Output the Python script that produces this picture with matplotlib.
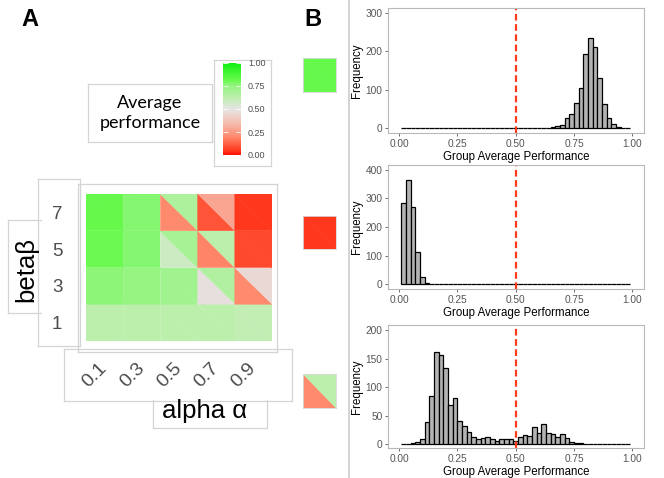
import numpy as np
import matplotlib.pyplot as plt
from matplotlib.colors import LinearSegmentedColormap, Normalize
from matplotlib.patches import Polygon, Rectangle
from matplotlib.cm import ScalarMappable

plt.rcParams['font.family'] = ['Liberation Sans', 'DejaVu Sans']

# ---------------- data ----------------
alphas = ['0.1', '0.3', '0.5', '0.7', '0.9']
betas = ['1', '3', '5', '7']

# average performance per cell (rows: beta 1,3,5,7 ; cols: alpha 0.1..0.9)
# each cell is split along its diagonal: lower-left / upper-right triangle
perf_lower = [
    [0.63, 0.63, 0.63, 0.63, 0.61],
    [0.76, 0.745, 0.71, 0.48, 0.20],
    [0.81, 0.77, 0.58, 0.19, 0.08],
    [0.82, 0.77, 0.20, 0.10, 0.05],
]
perf_upper = [
    [0.63, 0.63, 0.63, 0.63, 0.61],
    [0.76, 0.745, 0.71, 0.66, 0.45],
    [0.81, 0.77, 0.69, 0.63, 0.08],
    [0.82, 0.77, 0.67, 0.28, 0.05],
]

# the three example squares next to the histograms
example_lower = [0.82, 0.05, 0.20]
example_upper = [0.82, 0.05, 0.63]

# histogram bins 0.01 .. 0.99, width 0.02
bin_width = 0.02
bin_left = np.round(np.arange(0.01, 0.98, bin_width), 2)

counts_high = [
    0, 0, 0, 0, 0, 0, 0, 0, 0, 0,
    0, 0, 0, 0, 0, 0, 0, 0, 0, 0,
    0, 0, 0, 0, 0, 0, 0, 0, 0, 0,
    0, 1, 3, 5, 8, 25, 36, 64, 104, 192,
    234, 210, 130, 62, 27, 10, 2, 0, 0,
]
counts_low = [
    283, 364, 269, 114, 26, 2, 0, 0, 0, 0,
    0, 0, 0, 0, 0, 0, 0, 0, 0, 0,
    0, 0, 0, 0, 0, 0, 0, 0, 0, 0,
    0, 0, 0, 0, 0, 0, 0, 0, 0, 0,
    0, 0, 0, 0, 0, 0, 0, 0, 0,
]
counts_mixed = [
    0, 0, 1, 3, 8, 38, 85, 161, 156, 134,
    68, 80, 40, 31, 21, 13, 9, 11, 12, 8,
    6, 8, 8, 9, 6, 12, 15, 14, 30, 20,
    35, 20, 17, 12, 18, 10, 4, 2, 1, 0,
    0, 0, 0, 0, 0, 0, 0, 0, 0,
]
hist_counts = [counts_high, counts_low, counts_mixed]
hist_yticks = [[0, 100, 200, 300], [0, 100, 200, 300, 400], [0, 50, 100, 150, 200]]
hist_ylims = [(-13, 313), (-17.5, 417.5), (-7, 209)]

perf_ticks = [0, 0.25, 0.5, 0.75, 1.0]
perf_ticklabels = ['0.00', '0.25', '0.50', '0.75', '1.00']

# ---------------- style ----------------
cmap = LinearSegmentedColormap.from_list('perf', [
    (0.00, '#ff1000'), (0.05, '#ff3a1f'), (0.20, '#ff8a6e'),
    (0.35, '#f5beb0'), (0.50, '#e5e5e5'), (0.63, '#bcefac'),
    (0.75, '#94f580'), (0.82, '#66f94c'), (1.00, '#10f010'),
])
norm = Normalize(0, 1)

W, H = 664, 478
fig = plt.figure(figsize=(W / 100, H / 100), dpi=100)
BOX = '#d4d4d4'


def px_axes(l, t, r, b):
    return fig.add_axes([l / W, 1 - b / H, (r - l) / W, (b - t) / H])


def split_square(ax, col, row, lo, up):
    c_lo = cmap(norm(lo))
    c_up = cmap(norm(up))
    ax.add_patch(Polygon([(col, row), (col, row + 1), (col + 1, row)],
                         closed=True, fc=c_lo, ec=c_lo, lw=0.3))
    ax.add_patch(Polygon([(col, row + 1), (col + 1, row + 1), (col + 1, row)],
                         closed=True, fc=c_up, ec=c_up, lw=0.3))


# background layer in pixel coordinates
bg = fig.add_axes([0, 0, 1, 1])
bg.set_xlim(0, W)
bg.set_ylim(H, 0)
bg.axis('off')


def box(x0, y0, x1, y1, sides='ltrb'):
    bg.add_patch(Rectangle((x0, y0), x1 - x0, y1 - y0, fc='white', ec='none'))
    if 'l' in sides:
        bg.plot([x0, x0], [y0, y1], color=BOX, lw=0.9)
    if 'r' in sides:
        bg.plot([x1, x1], [y0, y1], color=BOX, lw=0.9)
    if 't' in sides:
        bg.plot([x0, x1], [y0, y0], color=BOX, lw=0.9)
    if 'b' in sides:
        bg.plot([x0, x1], [y1, y1], color=BOX, lw=0.9)


box(38, 179, 80, 346)
box(78, 184, 277, 352)
box(64, 349, 292, 401)
box(153, 400, 267, 428, sides='lrb')
box(8, 220, 41, 313, sides='ltb')
box(88, 84, 212, 142)
box(214, 60, 271, 166)

bg.plot([349, 349], [0, H], color='#d0d0d0', lw=1.3)

bg.text(30, 19, 'A', fontsize=17, fontweight='bold', ha='center', va='center')
bg.text(313, 19, 'B', fontsize=17, fontweight='bold', ha='center', va='center')
bg.text(150, 113, 'Average\nperformance', fontsize=13, family=['Lato', 'DejaVu Sans'],
        ha='center', va='center', linespacing=1.35)
bg.text(26, 270, 'betaβ', fontsize=18.5, rotation=90, ha='center', va='center')
bg.text(205, 411, 'alpha α', fontsize=18.5, ha='center', va='center')

# ---------------- heatmap ----------------
hm = px_axes(86, 194, 272, 341)
hm.set_xlim(0, len(alphas))
hm.set_ylim(0, len(betas))
for i in range(len(betas)):
    for j in range(len(alphas)):
        split_square(hm, j, i, perf_lower[i][j], perf_upper[i][j])
hm.set_xticks(np.arange(len(alphas)) + 0.5)
hm.set_xticklabels(alphas, rotation=45, ha='right', va='center',
                   rotation_mode='anchor', fontsize=14, color='#4d4d4d')
hm.set_yticks(np.arange(len(betas)) + 0.5)
hm.set_yticklabels(betas, fontsize=13.5, color='#4d4d4d')
hm.tick_params(length=0)
hm.tick_params(axis='x', pad=18)
hm.tick_params(axis='y', pad=17)
for s in hm.spines.values():
    s.set_visible(False)

# ---------------- colour bar ----------------
cax = px_axes(223, 63, 241, 155)
cb = fig.colorbar(ScalarMappable(norm=norm, cmap=cmap), cax=cax, ticks=perf_ticks)
cb.outline.set_visible(False)
cax.set_yticklabels(perf_ticklabels)
cax.tick_params(axis='y', direction='in', color='white', length=3.5, width=0.6,
                left=True, right=True, labelsize=6.5, labelcolor='#4d4d4d', pad=5)

# ---------------- example squares ----------------
square_px = [(303, 58, 336, 92), (303, 216, 336, 249), (303, 374, 336, 408)]
for k, (l, t, r, b) in enumerate(square_px):
    sq = px_axes(l, t, r, b)
    sq.set_xlim(0, 1)
    sq.set_ylim(0, 1)
    split_square(sq, 0, 0, example_lower[k], example_upper[k])
    sq.set_xticks([])
    sq.set_yticks([])
    for s in sq.spines.values():
        s.set_color('#d8d8d8')
        s.set_linewidth(0.6)

# ---------------- histograms ----------------
hist_px = [(388, 8, 644, 133), (388, 165, 644, 289), (388, 325, 644, 448)]
for k, (l, t, r, b) in enumerate(hist_px):
    ax = px_axes(l, t, r, b)
    ax.bar(bin_left, hist_counts[k], width=bin_width, align='edge',
           color='#b3b3b3', edgecolor='black', linewidth=0.9)
    ax.axvline(0.5, color='#ff3b1f', lw=1.6, ls=(0, (3, 1.6)))
    ax.set_xlim(-0.047, 1.05)
    ax.set_ylim(*hist_ylims[k])
    ax.set_xticks(perf_ticks)
    ax.set_xticklabels(perf_ticklabels)
    ax.set_yticks(hist_yticks[k])
    ax.tick_params(length=2.5, width=0.6, color='#555555', labelsize=7.3,
                   labelcolor='#555555', pad=1.5)
    for s in ax.spines.values():
        s.set_color('#b8b8b8')
        s.set_linewidth(0.8)
    ax.set_xlabel('Group Average Performance', fontsize=8.3, labelpad=1.5)
    ax.set_ylabel('Frequency', fontsize=8.3, labelpad=2)

fig.savefig('out.png', dpi=100)
